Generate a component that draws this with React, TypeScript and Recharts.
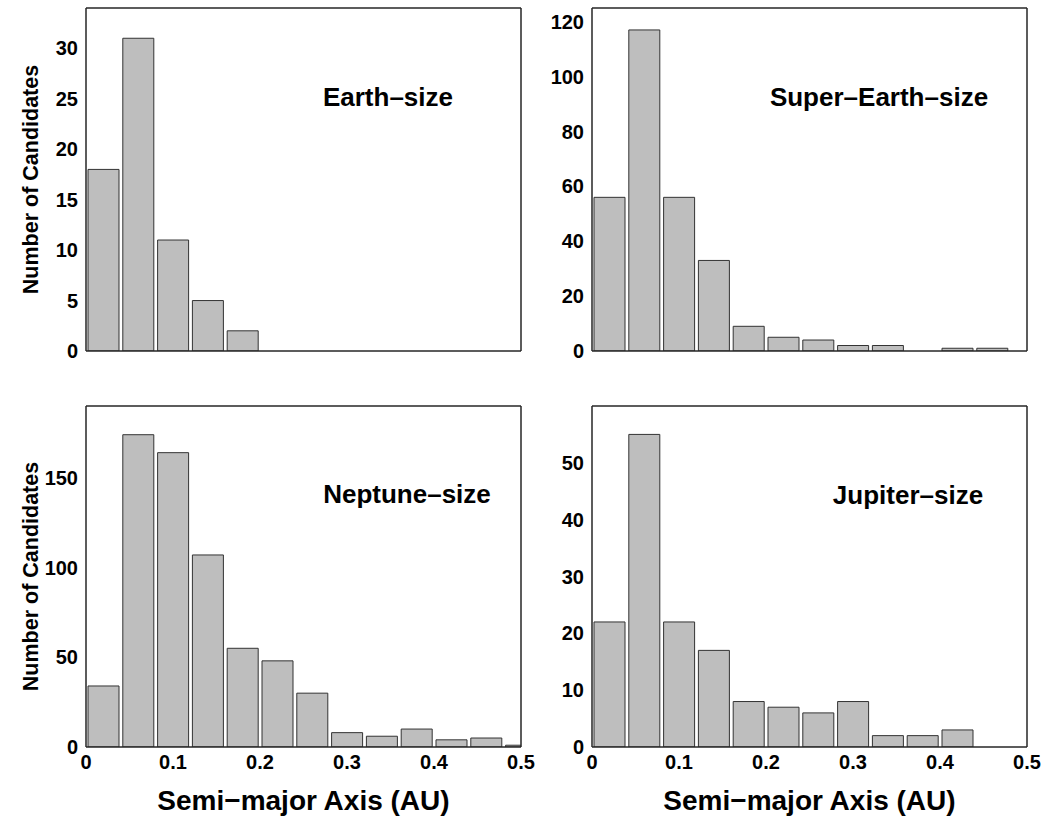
import { Bar, BarChart, Label, XAxis, YAxis } from "recharts"

// bin centres of the semi-major axis histogram (AU), 0.04 wide
const binCenters = [0.02, 0.06, 0.1, 0.14, 0.18, 0.22, 0.26, 0.3, 0.34, 0.38, 0.42, 0.46, 0.5]

const earthCounts = [18, 31, 11, 5, 2, 0, 0, 0, 0, 0, 0, 0, 0]
const superEarthCounts = [56, 117, 56, 33, 9, 5, 4, 2, 2, 0, 1, 1, 0]
const neptuneCounts = [34, 174, 164, 107, 55, 48, 30, 8, 6, 10, 4, 5, 1]
const jupiterCounts = [22, 55, 22, 17, 8, 7, 6, 8, 2, 2, 3, 0, 0]

const xTicks = [0, 0.1, 0.2, 0.3, 0.4, 0.5]
const earthTicks = [0, 5, 10, 15, 20, 25, 30]
const superEarthTicks = [0, 20, 40, 60, 80, 100, 120]
const neptuneTicks = [0, 50, 100, 150]
const jupiterTicks = [0, 10, 20, 30, 40, 50]

const FRAME = "#262626"
const FONT = "'Liberation Sans', Arial, Helvetica, sans-serif"
const tickStyle = { fill: "#000", fontSize: 20, fontWeight: "bold" as const }

function Panel({
  counts,
  yMax,
  yTicks,
  title,
  titleX,
  titleY,
  left,
  top,
  showX,
  showY,
}: {
  counts: number[]
  yMax: number
  yTicks: number[]
  title: string
  titleX: number
  titleY: number
  left: number
  top: number
  showX: boolean
  showY: boolean
}) {
  const data = binCenters.map((a, i) => ({ a, n: counts[i] }))
  const height = showX ? 421 : 370

  return (
    <div style={{ position: "absolute", left, top }}>
      <BarChart
        width={545}
        height={height}
        data={data}
        margin={{ top: 8, right: 24, left: 0, bottom: showX ? 0 : 19 }}
      >
        <XAxis
          dataKey="a"
          type="number"
          domain={[0, 0.5]}
          allowDataOverflow
          ticks={xTicks}
          interval={0}
          hide={!showX}
          height={72}
          tickLine={false}
          axisLine={false}
          tick={tickStyle}
        >
          <Label
            value="Semi−major Axis (AU)"
            position="insideBottom"
            offset={9}
            style={{ fontSize: 28, fontWeight: "bold", fill: "#000" }}
          />
        </XAxis>
        <XAxis
          xAxisId="bottomFrame"
          dataKey="a"
          type="number"
          orientation="bottom"
          mirror
          domain={[0, 0.5]}
          allowDataOverflow
          ticks={xTicks}
          tick={false}
          tickSize={4}
          axisLine={{ stroke: FRAME, strokeWidth: 1.5 }}
          tickLine={{ stroke: FRAME }}
        />
        <XAxis
          xAxisId="topFrame"
          dataKey="a"
          type="number"
          orientation="top"
          mirror
          domain={[0, 0.5]}
          allowDataOverflow
          ticks={xTicks}
          tick={false}
          tickSize={4}
          axisLine={{ stroke: FRAME, strokeWidth: 1.5 }}
          tickLine={{ stroke: FRAME }}
        />
        <YAxis
          domain={[0, yMax]}
          allowDataOverflow
          ticks={yTicks}
          interval={0}
          width={86}
          tickLine={false}
          axisLine={false}
          tick={tickStyle}
        >
          {showY && (
            <Label
              value="Number of Candidates"
              angle={-90}
              position="insideLeft"
              offset={30}
              style={{ fontSize: 21.5, fontWeight: "bold", fill: "#000", textAnchor: "middle" }}
            />
          )}
        </YAxis>
        <YAxis
          yAxisId="leftFrame"
          orientation="left"
          mirror
          domain={[0, yMax]}
          allowDataOverflow
          ticks={yTicks}
          tick={false}
          tickSize={4}
          axisLine={{ stroke: FRAME, strokeWidth: 1.5 }}
          tickLine={{ stroke: FRAME }}
        />
        <YAxis
          yAxisId="rightFrame"
          orientation="right"
          mirror
          domain={[0, yMax]}
          allowDataOverflow
          ticks={yTicks}
          tick={false}
          tickSize={4}
          axisLine={{ stroke: FRAME, strokeWidth: 1.5 }}
          tickLine={{ stroke: FRAME }}
        />
        <Bar
          dataKey="n"
          fill="#bebebe"
          stroke="#333"
          strokeWidth={1}
          barSize={31}
          isAnimationActive={false}
        />
        <text
          x={titleX}
          y={titleY}
          textAnchor="middle"
          fontSize={26}
          fontWeight="bold"
          fill="#000"
        >
          {title}
        </text>
      </BarChart>
    </div>
  )
}

export default function App() {
  return (
    <div
      style={{
        position: "absolute",
        left: 0,
        top: 0,
        width: 1045,
        height: 819,
        background: "#fff",
        fontFamily: FONT,
      }}
    >
      <Panel
        counts={earthCounts}
        yMax={34}
        yTicks={earthTicks}
        title="Earth–size"
        titleX={388}
        titleY={106}
        left={0}
        top={0}
        showX={false}
        showY
      />
      <Panel
        counts={superEarthCounts}
        yMax={125}
        yTicks={superEarthTicks}
        title="Super–Earth–size"
        titleX={373}
        titleY={106}
        left={506}
        top={0}
        showX={false}
        showY={false}
      />
      <Panel
        counts={neptuneCounts}
        yMax={190}
        yTicks={neptuneTicks}
        title="Neptune–size"
        titleX={407}
        titleY={105}
        left={0}
        top={398}
        showX
        showY
      />
      <Panel
        counts={jupiterCounts}
        yMax={60}
        yTicks={jupiterTicks}
        title="Jupiter–size"
        titleX={402}
        titleY={106}
        left={506}
        top={398}
        showX
        showY={false}
      />
    </div>
  )
}
